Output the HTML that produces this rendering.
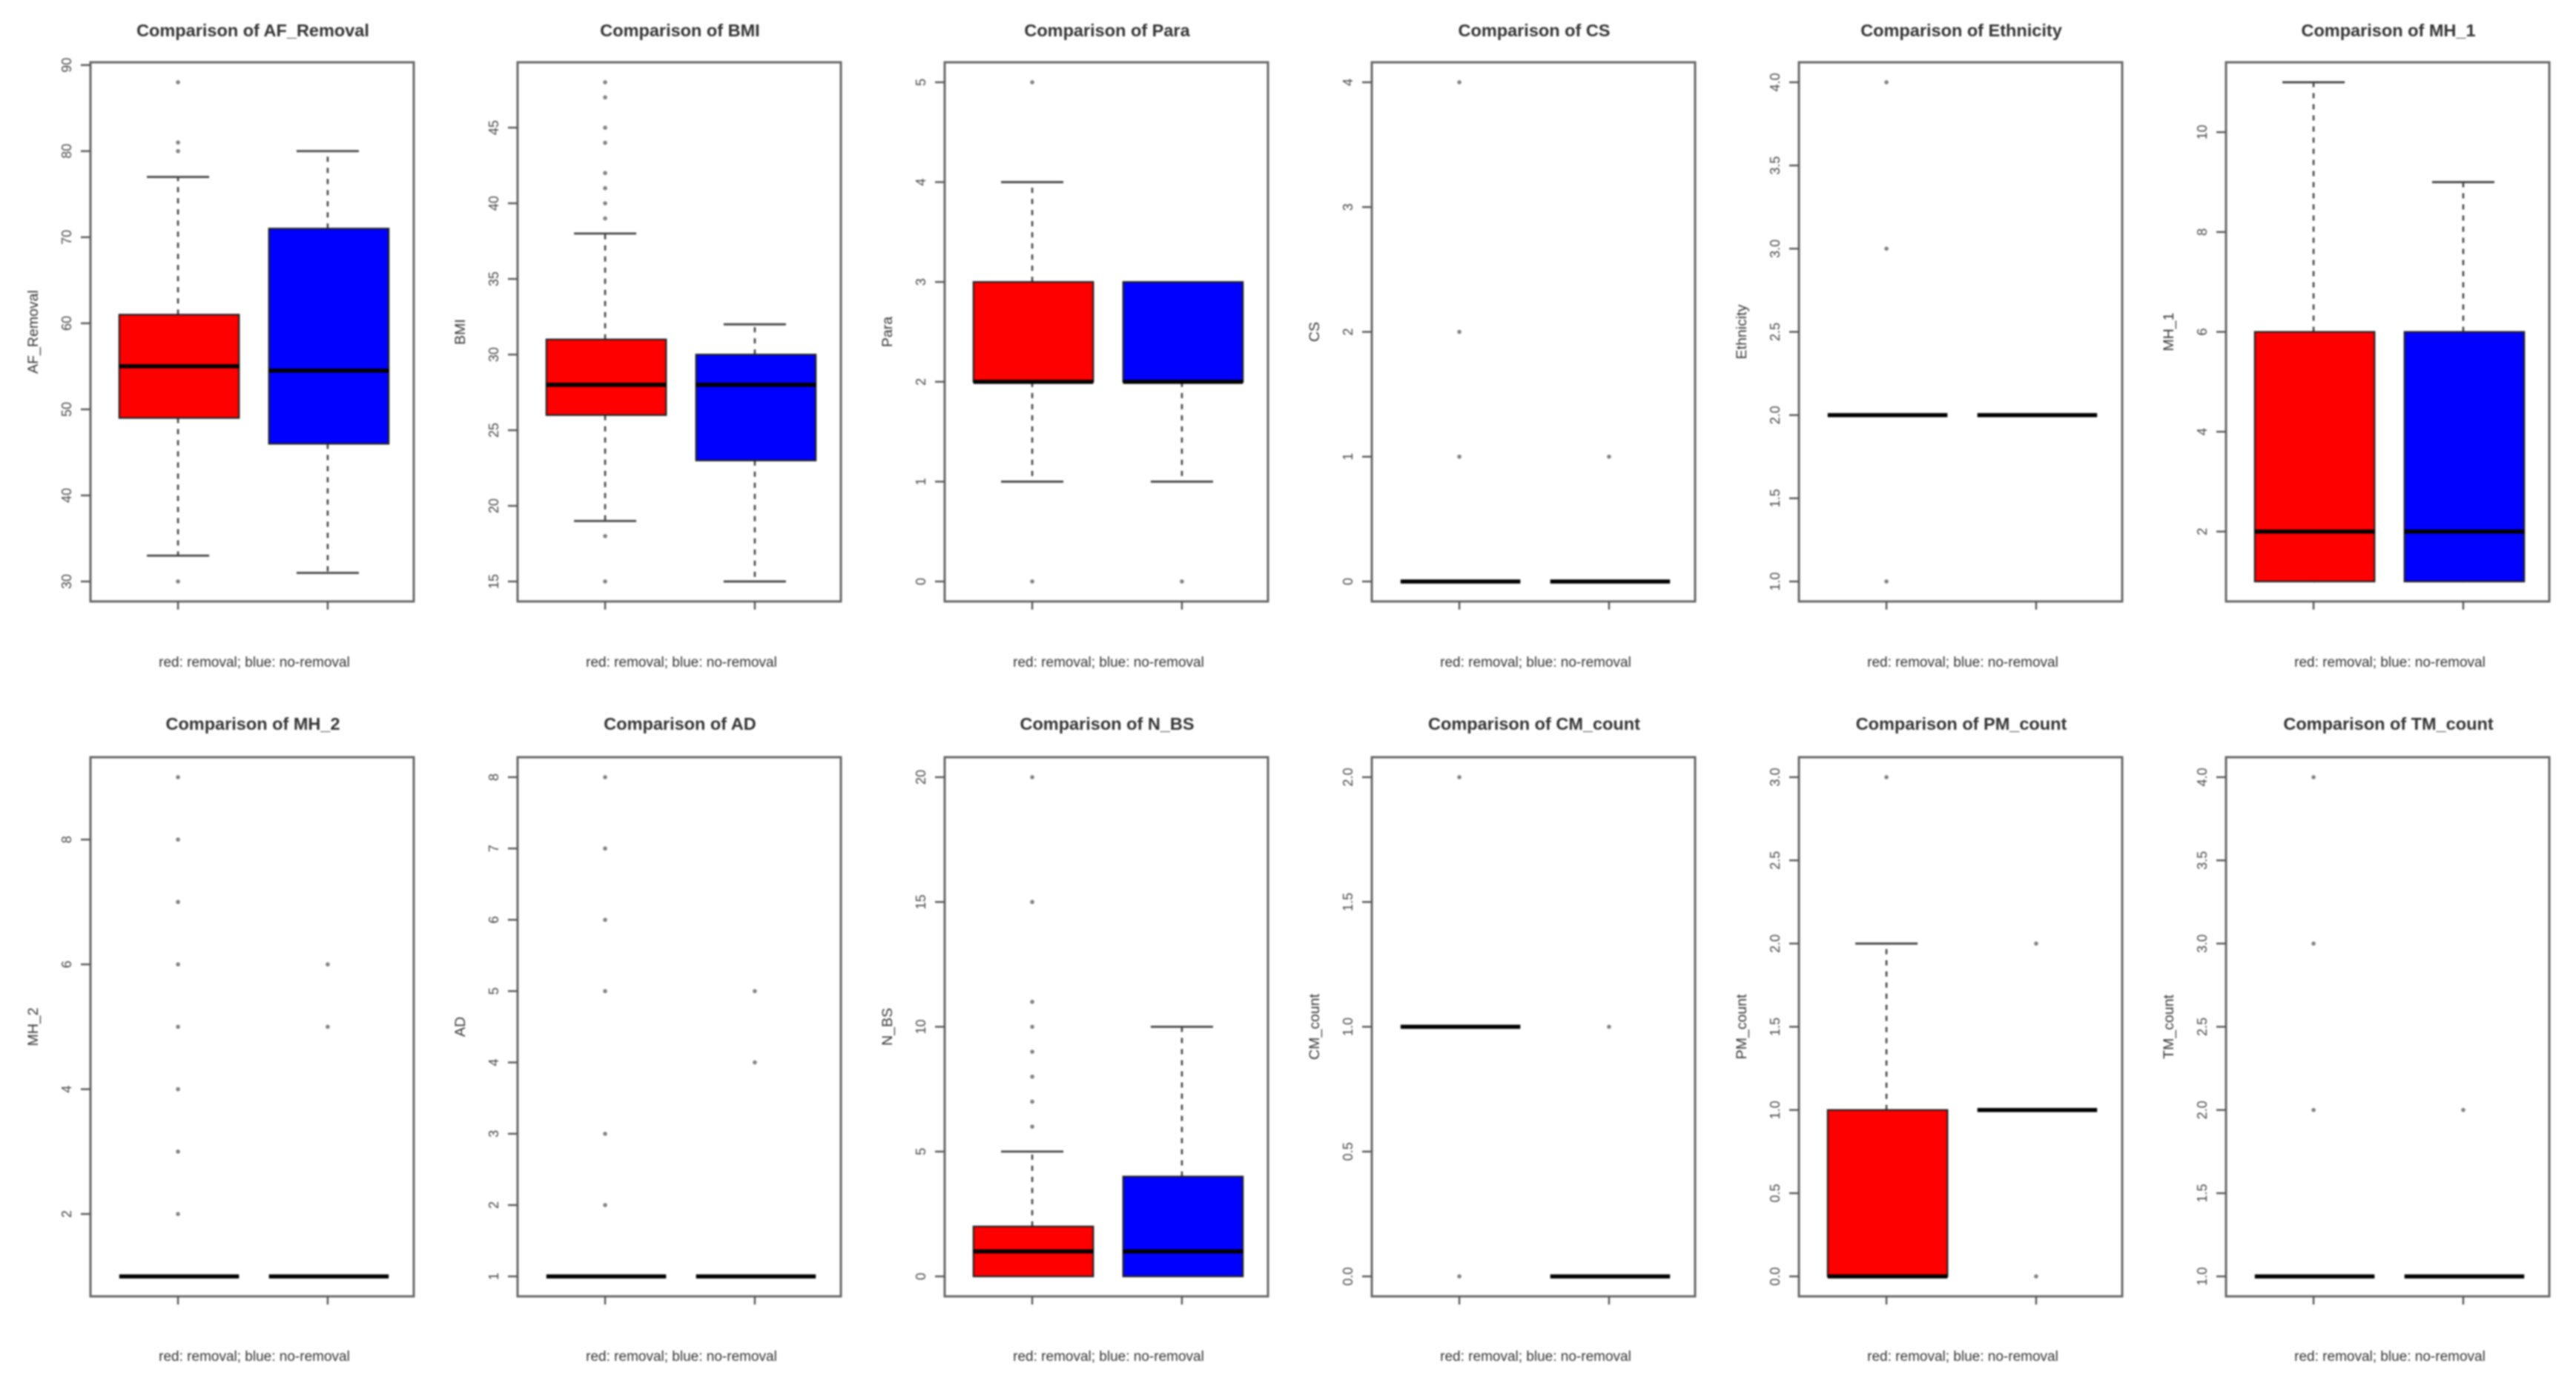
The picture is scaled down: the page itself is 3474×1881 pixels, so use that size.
<!DOCTYPE html>
<html lang="en">
<head>
<meta charset="utf-8">
<title>Comparison of removal and no-removal groups</title>
<style>
  html, body { margin: 0; padding: 0; background: #fff; }
  body { width: 3474px; height: 1881px; overflow: hidden; }
  svg { display: block; filter: blur(1px); font-family: "Liberation Sans", Arial, sans-serif; }
</style>
</head>
<body>
<svg id="chart" xmlns="http://www.w3.org/2000/svg" width="3474" height="1881" viewBox="0 0 3474 1881"></svg>
<script>
const variables = ["AF_Removal","BMI","Para","CS","Ethnicity","MH_1","MH_2","AD","N_BS","CM_count","PM_count","TM_count"];
const yAxisTitles = ["AF_Removal","BMI","Para","CS","Ethnicity","MH_1","MH_2","AD","N_BS","CM_count","PM_count","TM_count"];
const caption = "red: removal; blue: no-removal";

// [low whisker, Q1, median, Q3, high whisker]
const redStats = [
  [33,49,55,61,77],[19,26,28,31,38],[1,2,2,3,4],[0,0,0,0,0],[2,2,2,2,2],[1,1,2,6,11],
  [1,1,1,1,1],[1,1,1,1,1],[0,0,1,2,5],[1,1,1,1,1],[0,0,0,1,2],[1,1,1,1,1]
];
const blueStats = [
  [31,46,54.5,71,80],[15,23,28,30,32],[1,2,2,3,3],[0,0,0,0,0],[2,2,2,2,2],[1,1,2,6,9],
  [1,1,1,1,1],[1,1,1,1,1],[0,0,1,4,10],[0,0,0,0,0],[1,1,1,1,1],[1,1,1,1,1]
];
const redOutliers = [
  [30,80,81,88],[15,18,39,40,41,42,44,45,47,48],[0,5],[1,2,4],[1,3,4],[],
  [2,3,4,5,6,7,8,9],[2,3,5,6,7,8],[6,7,8,9,10,11,15,20],[0,2],[3],[2,3,4]
];
const blueOutliers = [
  [],[],[0],[1],[],[],
  [5,6],[4,5],[],[1],[0,2],[2]
];
const tickLabels = [
  ["30","40","50","60","70","80","90"],
  ["15","20","25","30","35","40","45"],
  ["0","1","2","3","4","5"],
  ["0","1","2","3","4"],
  ["1.0","1.5","2.0","2.5","3.0","3.5","4.0"],
  ["2","4","6","8","10"],
  ["2","4","6","8"],
  ["1","2","3","4","5","6","7","8"],
  ["0","5","10","15","20"],
  ["0.0","0.5","1.0","1.5","2.0"],
  ["0.0","0.5","1.0","1.5","2.0","2.5","3.0"],
  ["1.0","1.5","2.0","2.5","3.0","3.5","4.0"]
];

const NS = "http://www.w3.org/2000/svg";
const svg = document.getElementById("chart");
const plotW = 436, plotH = 727, colStep = 576;
const colLeft = 122;
const rowTop = [84, 1021];
const titleY = [49, 984];
const captionY = [899, 1835];

function make(parent, tag, props) {
  const node = document.createElementNS(NS, tag);
  for (const k in props) node.setAttribute(k, props[k]);
  parent.appendChild(node);
  return node;
}

function drawBox(g, stats, outliers, cx, halfW, yScale, fill, label) {
  const box = make(g, "g", {});
  
  

  const yLow = yScale(stats[0]), yQ1 = yScale(stats[1]), yMed = yScale(stats[2]), yQ3 = yScale(stats[3]), yHigh = yScale(stats[4]);
  const capHalf = 42;

  const upper = make(box, "line", {x1: cx, x2: cx, y1: yQ3, y2: yHigh, stroke: "#444", "stroke-width": 2.6, "stroke-dasharray": "7 8"});
  
  

  const lower = make(box, "line", {x1: cx, x2: cx, y1: yQ1, y2: yLow, stroke: "#444", "stroke-width": 2.6, "stroke-dasharray": "7 8"});
  
  

  if (stats[4] !== stats[3]) {
    const capHigh = make(box, "line", {x1: cx - capHalf, x2: cx + capHalf, y1: yHigh, y2: yHigh, stroke: "#444", "stroke-width": 2.8});
    
    
  }
  if (stats[0] !== stats[1]) {
    const capLow = make(box, "line", {x1: cx - capHalf, x2: cx + capHalf, y1: yLow, y2: yLow, stroke: "#444", "stroke-width": 2.8});
    
    
  }

  const rect = make(box, "rect", {x: cx - halfW + 1.5, y: yQ3, width: halfW * 2, height: Math.max(0, yQ1 - yQ3), fill: fill, stroke: "#222", "stroke-width": 2.2});
  
  

  const median = make(box, "line", {x1: cx - halfW + 1.5, x2: cx + halfW + 1.5, y1: yMed, y2: yMed, stroke: "#000", "stroke-width": 5.5});
  
  

  outliers.forEach(function (v) {
    const dot = make(box, "circle", {cx: cx, cy: yScale(v), r: 2.8, fill: "#808080"});
    
    
  });
}

variables.forEach(function (name, i) {
  const col = i % 6, row = Math.floor(i / 6);
  const left = colLeft + col * colStep, top = rowTop[row], bottom = top + plotH;

  const all = redStats[i].concat(blueStats[i], redOutliers[i], blueOutliers[i]);
  const dMin = Math.min.apply(null, all), dMax = Math.max.apply(null, all);
  const pad = (dMax - dMin) * 0.04;
  const yScale = function (v) { return bottom - (v - (dMin - pad)) / ((dMax + pad) - (dMin - pad)) * plotH; };
  const xScale = function (v) { return left + 1 + (v - 0.42) / 2.16 * plotW; };

  const g = make(svg, "g", {});
  
  

  const title = make(g, "text", {x: left + plotW / 2 + 1, y: titleY[row], "text-anchor": "middle", "font-size": 23.5, "font-weight": "bold", fill: "#333"});
  title.textContent = "Comparison of " + name;
  
  

  const frame = make(g, "rect", {x: left, y: top, width: plotW, height: plotH, fill: "#fff", stroke: "#666", "stroke-width": 3});
  
  

  tickLabels[i].forEach(function (lab) {
    const y = yScale(parseFloat(lab));
    const tick = make(g, "line", {x1: left - 13, x2: left, y1: y, y2: y, stroke: "#555", "stroke-width": 2.4});
    
    
    const tx = left - 26;
    const t = make(g, "text", {x: tx, y: y, "text-anchor": "middle", "font-size": 18, fill: "#444", transform: "rotate(-90 " + tx + " " + y + ")"});
    t.textContent = lab;
    
    
  });

  [1, 2].forEach(function (pos) {
    const x = xScale(pos);
    const tick = make(g, "line", {x1: x, x2: x, y1: bottom, y2: bottom + 11, stroke: "#555", "stroke-width": 2.4});
    
    
  });

  const halfW = 0.4 / 2.16 * plotW;
  drawBox(g, redStats[i], redOutliers[i], xScale(1), halfW, yScale, "#ff0000", "removal");
  drawBox(g, blueStats[i], blueOutliers[i], xScale(2), halfW, yScale, "#0000ff", "no-removal");

  const ax = left - 71, ay = top + plotH / 2;
  const yTitle = make(g, "text", {x: ax, y: ay, "text-anchor": "middle", "font-size": 19.5, fill: "#333", transform: "rotate(-90 " + ax + " " + ay + ")"});
  yTitle.textContent = yAxisTitles[i];
  
  

  const cap = make(g, "text", {x: left + plotW / 2 + 3, y: captionY[row], "text-anchor": "middle", "font-size": 19, fill: "#333"});
  cap.textContent = caption;
  
  
});
</script>
</body>
</html>
